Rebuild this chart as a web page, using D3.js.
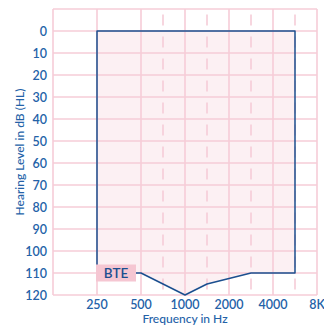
<!DOCTYPE html>
<html><head><meta charset="utf-8">
<script src="https://cdn.jsdelivr.net/npm/d3@7"></script>
<style>body{margin:0;background:#fff}svg{display:block}</style>
</head><body><svg id="c" width="324" height="326"></svg>
<script>
// audiometric frequencies and their position on the chart (octave index)
const audFreqs = [125, 250, 500, 750, 1000, 1500, 2000, 3000, 4000, 6000, 8000];
const audIndex = [0, 1, 2, 2.5, 3, 3.5, 4, 4.5, 5, 5.5, 6];
const xTicks = [250, 500, 1000, 2000, 4000, 8000];
const xTickLabels = ["250", "500", "1000", "2000", "4000", "8K"];
const halfOctaves = [750, 1500, 3000, 6000];
const yTicks = [0, 10, 20, 30, 40, 50, 60, 70, 80, 90, 100, 110, 120];
const gridDb = [-10, 0, 10, 20, 30, 40, 50, 60, 70, 80, 90, 100, 110, 120];
const fitFreq = [250, 500, 1000, 1500, 3000, 6000];
const fitDb = [110, 110, 120, 115, 110, 110];
const topDb = 0;
const labelText = "BTE";

const svg = d3.select("#c");
const m = {l: 53, r: 317, t: 9, b: 295};
const idx = d3.scaleOrdinal(audFreqs, audIndex);
const xi = d3.scaleLinear().domain([0, 6]).range([m.l, m.r]);
const x = f => xi(idx(f));
const y = d3.scaleLinear().domain([-10, 120]).range([m.t, m.b]);
const grid = "#f6ccd7", blue = "#1b4f8f", txt = "#2462a8";
const font = "Lato, 'Open Sans', sans-serif";

const poly = [[fitFreq[0], topDb]].concat(fitFreq.map((f, i) => [f, fitDb[i]])).concat([[fitFreq[fitFreq.length-1], topDb]]);
const line = d3.line().x(d => x(d[0])).y(d => y(d[1]));
svg.append("path").attr("d", line(poly) + "Z").attr("fill", "#fcf0f3");

// grid
const g = svg.append("g");
g.selectAll("line.h").data(gridDb).join("line")
  .attr("x1", m.l).attr("x2", m.r).attr("y1", d => y(d)).attr("y2", d => y(d))
  .attr("stroke", grid).attr("stroke-width", 1.6);
g.selectAll("line.v").data([125].concat(xTicks)).join("line")
  .attr("y1", m.t).attr("y2", m.b).attr("x1", d => x(d)).attr("x2", d => x(d))
  .attr("stroke", grid).attr("stroke-width", 1.6);
const cell = y(0) - y(-10);
g.selectAll("line.d").data(halfOctaves).join("line")
  .attr("y1", m.t + cell * 0.25).attr("y2", m.b).attr("x1", d => x(d)).attr("x2", d => x(d))
  .attr("stroke", grid).attr("stroke-width", 1.6)
  .attr("stroke-dasharray", `${cell/2} ${cell/2}`);

// outline
svg.append("path").attr("d", line(poly) + "Z")
  .attr("fill", "none").attr("stroke", blue).attr("stroke-width", 1.5).attr("stroke-linejoin", "round");

// BTE label
const lx = x(fitFreq[0]) - 1, ly = y(fitDb[0]);
svg.append("rect").attr("x", lx).attr("y", ly - 8.5).attr("width", 40).attr("height", 17).attr("fill", "#f5c6d2");
svg.append("text").attr("x", lx + 20).attr("y", ly + 5).attr("text-anchor", "middle")
  .attr("font-family", font).attr("font-size", 13.5).attr("font-weight", 600).attr("fill", blue).text(labelText);

// tick labels
svg.selectAll("text.yt").data(yTicks).join("text")
  .attr("x", 47).attr("y", d => y(d) + 4.5).attr("text-anchor", "end")
  .attr("font-family", font).attr("font-size", 12.5).attr("font-weight", 600).attr("fill", txt).text(d => d);
svg.selectAll("text.xt").data(xTicks).join("text")
  .attr("x", d => x(d)).attr("y", 309).attr("text-anchor", "middle")
  .attr("font-family", font).attr("font-size", 12.5).attr("font-weight", 600).attr("fill", txt).text((d, i) => xTickLabels[i]);
// axis titles
svg.append("text").attr("x", (m.l + m.r) / 2).attr("y", 323).attr("text-anchor", "middle")
  .attr("font-family", font).attr("font-size", 12).attr("font-weight", 500).attr("fill", txt).text("Frequency in Hz");
svg.append("text").attr("transform", `translate(24,${(m.t + m.b) / 2}) rotate(-90)`).attr("text-anchor", "middle")
  .attr("font-family", font).attr("font-size", 12).attr("font-weight", 500).attr("fill", txt).text("Hearing Level in dB (HL)");
</script></body></html>
